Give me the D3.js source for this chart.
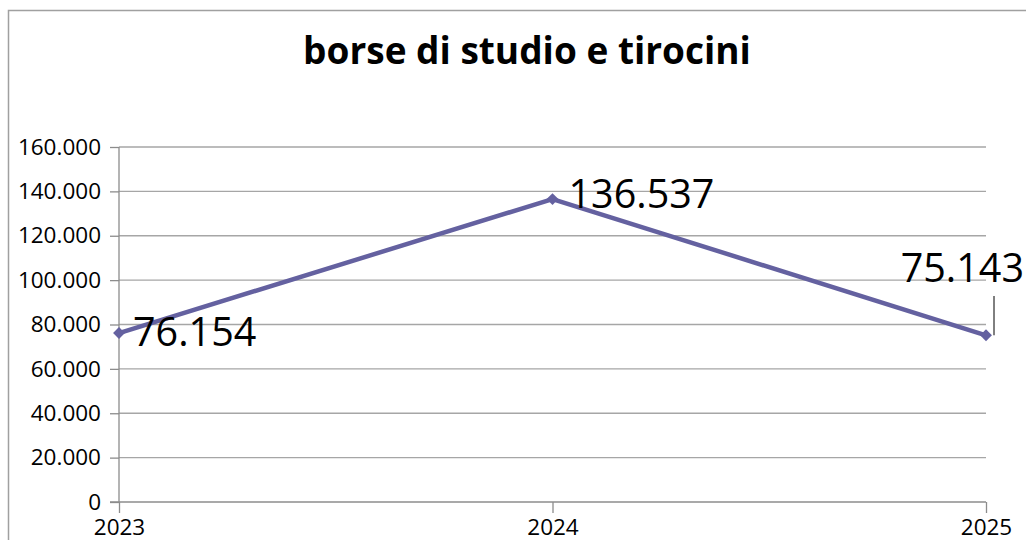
<!DOCTYPE html>
<html><head><meta charset="utf-8">
<script src="https://cdn.jsdelivr.net/npm/d3@7"></script>
<style>body{margin:0;background:#fff;}svg{display:block;font-family:"Open Sans",sans-serif;}</style>
</head><body>
<svg id="c" width="1026" height="540"></svg>
<script>
const title = "borse di studio e tirocini";
const categories = ["2023", "2024", "2025"];
const values = [76154, 136537, 75143];
const labels = ["76.154", "136.537", "75.143"];
const yTicks = [0, 20000, 40000, 60000, 80000, 100000, 120000, 140000, 160000];
const yTickLabels = ["0", "20.000", "40.000", "60.000", "80.000", "100.000", "120.000", "140.000", "160.000"];

const svg = d3.select("#c");
const lineColor = "#6461a0";
// chart border
svg.append("rect").attr("x", 8.5).attr("y", 10.5).attr("width", 1100).attr("height", 600)
  .attr("fill", "none").attr("stroke", "#a0a0a0").attr("stroke-width", 1.5);

const x = d3.scalePoint().domain(categories).range([119, 986]);
const y = d3.scaleLinear().domain([0, 160000]).range([502, 147]);

// gridlines
svg.append("g").selectAll("line").data(yTicks.filter(d => d > 0)).join("line")
  .attr("x1", 119).attr("x2", 986).attr("y1", d => y(d)).attr("y2", d => y(d))
  .attr("stroke", "#a6a6a6").attr("stroke-width", 1.3);

// y axis
const yAxis = d3.axisLeft(y).tickValues(yTicks).tickFormat((d, i) => yTickLabels[i]).tickSize(9).tickPadding(9);
const gy = svg.append("g").attr("transform", "translate(119,0)").call(yAxis);
gy.select(".domain").attr("stroke", "#8c8c8c").attr("stroke-width", 1.3).attr("d", `M0,${y(160000)}V${y(0)}`);
gy.selectAll(".tick line").attr("stroke", "#8c8c8c").attr("stroke-width", 1.3);
gy.selectAll(".tick text").attr("font-family", "Open Sans").attr("font-size", 22.5).attr("fill", "#000");

// x axis
const xAxis = d3.axisBottom(x).tickSize(11).tickPadding(6);
const gx = svg.append("g").attr("transform", `translate(0,${y(0)})`).call(xAxis);
gx.select(".domain").attr("stroke", "#8c8c8c").attr("stroke-width", 1.3).attr("d", "M110,0H986");
gx.selectAll(".tick line").attr("stroke", "#8c8c8c").attr("stroke-width", 1.3);
gx.selectAll(".tick text").attr("font-family", "Open Sans").attr("font-size", 22.5).attr("fill", "#000");

// line
const pts = categories.map((c, i) => ({c, v: values[i], l: labels[i]}));
svg.append("path").datum(pts)
  .attr("d", d3.line().x(d => x(d.c)).y(d => y(d.v)))
  .attr("fill", "none").attr("stroke", lineColor).attr("stroke-width", 4.5).attr("stroke-linejoin", "round");
svg.append("g").selectAll("path").data(pts).join("path")
  .attr("d", d3.symbol().type(d3.symbolSquare).size(70))
  .attr("transform", d => `translate(${x(d.c)},${y(d.v)}) rotate(45)`)
  .attr("fill", lineColor);

// data labels
const lab = svg.append("g").attr("font-family", "Open Sans").attr("font-size", 39.5).attr("fill", "#000");
lab.append("text").attr("x", x(categories[0]) + 14).attr("y", y(values[0]) + 13).text(labels[0]);
lab.append("text").attr("x", x(categories[1]) + 16).attr("y", y(values[1]) + 9).text(labels[1]);
lab.append("text").attr("x", 1024).attr("y", 282).attr("text-anchor", "end").text(labels[2]);
svg.append("line").attr("x1", 994).attr("x2", 994).attr("y1", 296).attr("y2", y(values[2]))
  .attr("stroke", "#000").attr("stroke-width", 1);

// title
svg.append("text").attr("x", 527).attr("y", 64).attr("text-anchor", "middle")
  .attr("font-family", "Open Sans").attr("font-weight", "bold").attr("font-size", 37).text(title);
</script>
</body></html>
